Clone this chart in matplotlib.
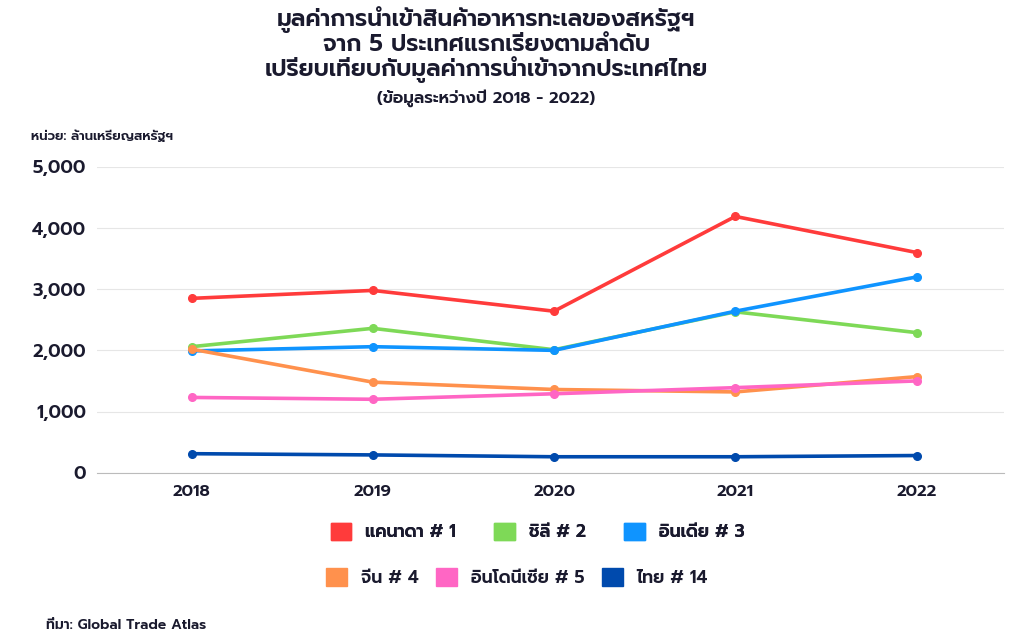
import matplotlib
matplotlib.use("Agg")
import matplotlib.pyplot as plt
from matplotlib.patches import Patch

plt.rcParams["font.family"] = ["Prompt", "Kanit", "DejaVu Sans"]

YEARS = ["2018", "2019", "2020", "2021", "2022"]
SERIES = ["แคนาดา # 1", "ชิลี # 2", "อินเดีย # 3", "จีน # 4", "อินโดนีเซีย # 5", "ไทย # 14"]
CANADA = [2850, 2980, 2640, 4190, 3600]
CHILE = [2060, 2360, 2010, 2630, 2290]
INDIA = [1990, 2060, 2000, 2640, 3200]
CHINA = [2020, 1480, 1360, 1320, 1570]
INDONESIA = [1230, 1200, 1290, 1390, 1500]
THAILAND = [310, 290, 260, 260, 280]
COLORS = ["#ff3b3b", "#7ed957", "#0f94ff", "#ff914d", "#ff66c4", "#004aad"]
INK = "#1a1a2e"

fig = plt.figure(figsize=(10.24, 6.37), dpi=100)
ax = fig.add_axes([0.095, 0.258, 0.885, 0.48])
x = range(len(YEARS))
for vals, c in zip([CANADA, CHILE, INDIA, CHINA, INDONESIA, THAILAND], COLORS):
    ax.plot(x, vals, color=c, lw=2.6, marker="o", ms=5.5, zorder=3)

ax.set_xlim(-0.52, 4.48)
ax.set_ylim(0, 5000)
ax.set_yticks(range(0, 5001, 1000))
ax.set_yticklabels([f"{v:,}" for v in range(0, 5001, 1000)], fontsize=13, fontweight=600, color=INK)
ax.set_xticks(list(x))
ax.set_xticklabels(YEARS, fontsize=12, fontweight=600, color=INK)
ax.grid(axis="y", color="#e6e6e6", lw=0.8)
for s in ["top", "right", "left"]:
    ax.spines[s].set_visible(False)
ax.spines["bottom"].set_color("#bbbbbb")
ax.tick_params(length=0, pad=8)

title = ("มูลค่าการนำเข้าสินค้าอาหารทะเลของสหรัฐฯ\n"
         "จาก 5 ประเทศแรกเรียงตามลำดับ\n"
         "เปรียบเทียบกับมูลค่าการนำเข้าจากประเทศไทย")
fig.text(0.475, 0.99, title, ha="center", va="top", fontsize=16.7, fontweight=600,
         color=INK, linespacing=1.0)
fig.text(0.475, 0.86, "(ข้อมูลระหว่างปี 2018 - 2022)", ha="center", va="top",
         fontsize=12, fontweight=600, color=INK)
fig.text(0.03, 0.78, "หน่วย: ล้านเหรียญสหรัฐฯ", fontsize=9.5, fontweight=600, color=INK)
fig.text(0.045, 0.013, "ที่มา: Global Trade Atlas", fontsize=10, fontweight=600, color=INK)

handles = [Patch(color=c) for c in COLORS]
prop = {"weight": 600, "size": 12.5}
leg1 = fig.legend(handles[:3], SERIES[:3], loc="center", bbox_to_anchor=(0.525, 0.165), ncol=3,
                  frameon=False, handlelength=1.2, handleheight=1.2, columnspacing=2.2,
                  prop=prop, labelcolor=INK)
fig.legend(handles[3:], SERIES[3:], loc="center", bbox_to_anchor=(0.505, 0.093), ncol=3,
           frameon=False, handlelength=1.2, handleheight=1.2, columnspacing=1.0,
           prop=prop, labelcolor=INK)
fig.add_artist(leg1)

fig.savefig("out.png", dpi=100)
